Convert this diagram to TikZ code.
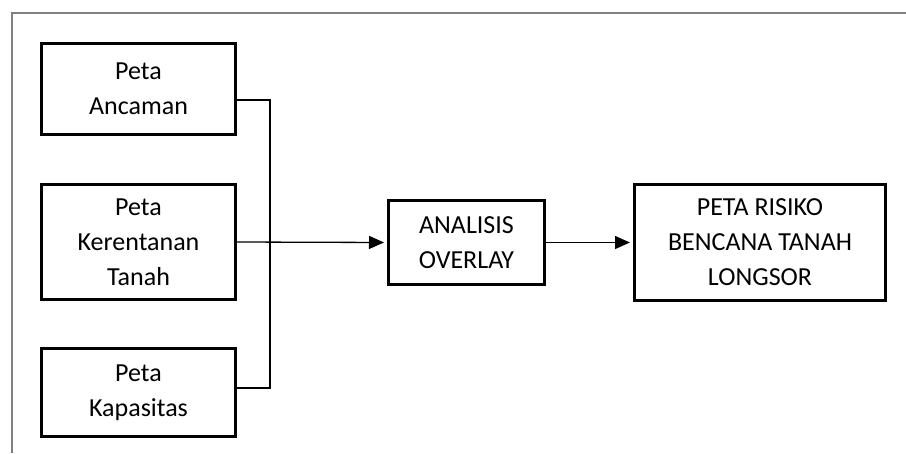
\documentclass[tikz,border=0pt]{standalone}
\usepackage{fontspec}
\setmainfont{Carlito}
\usetikzlibrary{arrows.meta}
\begin{document}
\begin{tikzpicture}[x=1pt,y=-1pt,
  box/.style={draw=black,line width=3pt,inner sep=0pt,align=center,
    font=\fontsize{26}{35}\selectfont},
  conn/.style={draw=black,line width=1.3pt},
  arr/.style={conn,-{Triangle[length=15pt,width=13pt]},shorten >=3pt},
  frame/.style={draw=black!50,line width=2pt}]
\useasboundingbox (0,0) rectangle (906,453);
\draw[frame] (12,453) -- (12,13) -- (906,13);
\node[box,minimum width=194pt,minimum height=91pt] (b1) at (138.5,89) {Peta\\Ancaman};
\node[box,minimum width=194pt,minimum height=115pt] (b2) at (138.5,242) {Peta\\Kerentanan\\Tanah};
\node[box,minimum width=194pt,minimum height=88pt] (b3) at (138.5,392.5) {Peta\\Kapasitas};
\node[box,minimum width=156pt,minimum height=84pt] (b4) at (466.5,242.5) {ANALISIS\\OVERLAY};
\node[box,minimum width=251pt,minimum height=116pt] (b5) at (760,242.5) {PETA RISIKO\\BENCANA TANAH\\LONGSOR};
\coordinate (j) at (270,0);
\draw[conn] ([yshift=-11pt]b1.east) -| ([yshift=4.5pt]j |- b3.east) -- ([yshift=4.5pt]b3.east);
\draw[arr] (b2.east) -- (b4.west);
\draw[arr] (b4.east) -- (b5.west);
\end{tikzpicture}
\end{document}
